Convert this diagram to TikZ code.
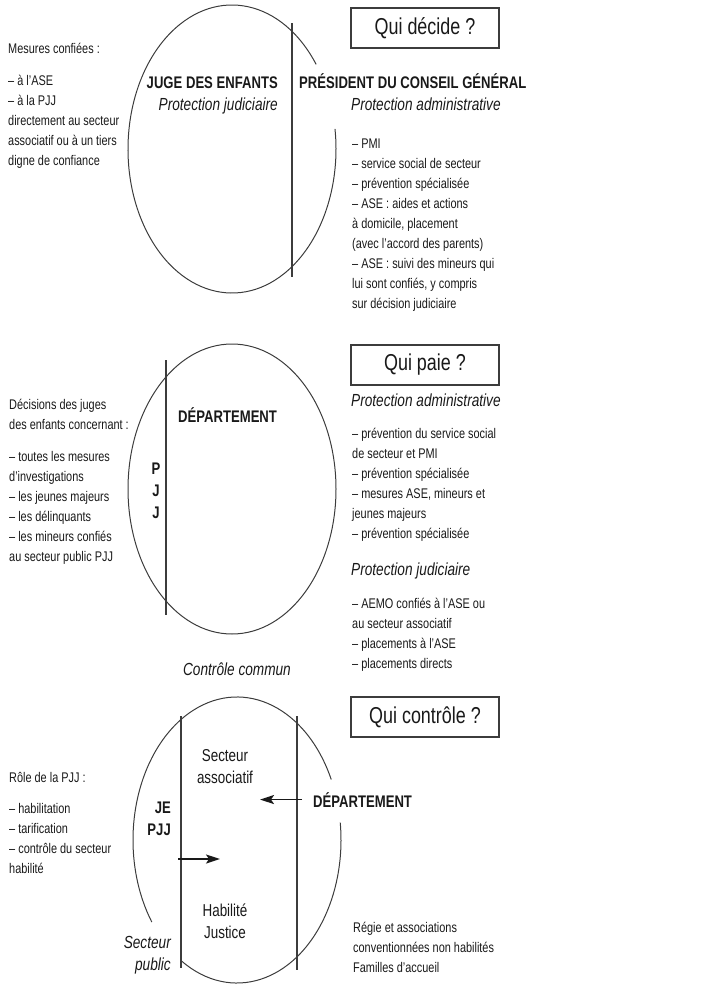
\documentclass[tikz,border=0pt]{standalone}
\usepackage{fontspec}
\setmainfont{Liberation Sans}[FakeStretch=0.78]
\usepackage{tikz}
\usetikzlibrary{arrows.meta,calc}
\definecolor{inkgray}{RGB}{60,60,60}
\definecolor{inktext}{RGB}{25,25,25}

\begin{document}
\begin{tikzpicture}[
    x=1pt, y=-1pt,
    >={Stealth[length=14pt,width=9pt,inset=3pt]},
    every node/.style={inner sep=0pt, text=inktext},
    questionbox/.style={rectangle, draw=inkgray, line width=1.2pt, minimum width=148pt, minimum height=40pt, font=\fontsize{23}{27}\selectfont},
    listtext/.style={anchor=base west, align=left, font=\fontsize{14}{20}\selectfont},
    headbold/.style={font=\bfseries\fontsize{16.8}{22}\selectfont},
    subital/.style={font=\itshape\fontsize{17.5}{22}\selectfont},
    sectortext/.style={align=center, font=\fontsize{17.2}{22}\selectfont},
    ring/.style={draw=inkgray, line width=1pt},
    divider/.style={draw=inkgray, line width=1.1pt},
    ctrlarrow/.style={->, line width=1.8pt, draw=inktext}
]
\useasboundingbox (0,0) rectangle (723,985);

% Part 1: Qui decide ?
\node[questionbox] (decide) at (425,28) {Qui décide ?};
\coordinate (decideC) at (232,149);
\draw[ring] (decideC) ++(-36:104 and 144) arc[start angle=-36, end angle=-368, x radius=104, y radius=144];
\coordinate (decideTop) at (292,23);
\coordinate (decideBot) at (292,277);
\draw[divider] (decideTop) -- (decideBot);

\node[headbold, anchor=base east] (juge) at (278,88) {JUGE DES ENFANTS};
\node[subital, anchor=base east] (judic1) at (278,110) {Protection judiciaire};
\node[headbold, anchor=base west] (pres) at (299,88) {PRÉSIDENT DU CONSEIL GÉNÉRAL};
\node[subital, anchor=base west] (admin1) at (351,110) {Protection administrative};

% multi-line nodes sit on their last baseline
\node[listtext] (mesures) at (8,165) {Mesures confiées :\\[12pt]– à l’ASE\\– à la PJJ\\directement au secteur\\associatif ou à un tiers\\digne de confiance};
\node[listtext] (admlist1) at (352,308) {– PMI\\– service social de secteur\\– prévention spécialisée\\– ASE : aides et actions\\à domicile, placement\\(avec l’accord des parents)\\– ASE : suivi des mineurs qui\\lui sont confiés, y compris\\sur décision judiciaire};

% Part 2: Qui paie ?
\node[questionbox] (paie) at (425,365) {Qui paie ?};
\coordinate (paieC) at (232,489);
\draw[ring] (paieC) ellipse[x radius=104, y radius=145];
\coordinate (paieTop) at (166,360);
\coordinate (paieBot) at (166,615);
\draw[divider] (paieTop) -- (paieBot);

\node[headbold, anchor=base west] (dep2) at (178,422) {DÉPARTEMENT};
\node[headbold, anchor=base, align=center] (pjj2) at (156,518) {P\\J\\J};

\node[listtext] (decisions) at (9,561) {Décisions des juges\\des enfants concernant :\\[12pt]– toutes les mesures\\d’investigations\\– les jeunes majeurs\\– les délinquants\\– les mineurs confiés\\au secteur public PJJ};

\node[subital, anchor=base west] (admin2) at (351,406) {Protection administrative};
\node[listtext] (admlist2) at (352,538) {– prévention du service social\\de secteur et PMI\\– prévention spécialisée\\– mesures ASE, mineurs et\\jeunes majeurs\\– prévention spécialisée};
\node[subital, anchor=base west] (judic2) at (351,575) {Protection judiciaire};
\node[listtext] (judlist2) at (352,668) {– AEMO confiés à l’ASE ou\\au secteur associatif\\– placements à l’ASE\\– placements directs};

% Part 3: Qui controle ?
\node[subital, anchor=base] (commun) at (237,675) {Contrôle commun};
\node[questionbox] (controle) at (425,717) {Qui contrôle ?};
\coordinate (controleC) at (237,840);
\draw[ring] (controleC) ++(-25:104 and 143) arc[start angle=-25, end angle=-215, x radius=104, y radius=143];
\draw[ring] (controleC) ++(-238:104 and 143) arc[start angle=-238, end angle=-367, x radius=104, y radius=143];
\coordinate (pubTop) at (181,716);
\coordinate (pubBot) at (181,968);
\coordinate (depTop) at (297,716);
\coordinate (depBot) at (297,970);
\draw[divider] (pubTop) -- (pubBot);
\draw[divider] (depTop) -- (depBot);

\node[sectortext, anchor=base] (assoc) at (225,783) {Secteur\\associatif};
\node[sectortext, anchor=base] (habil) at (225,938) {Habilité\\Justice};
\node[headbold, anchor=base east, align=right] (jepjj) at (171,835) {JE\\PJJ};
\node[subital, anchor=base east, align=right] (public) at (171,970) {Secteur\\public};
\node[headbold, anchor=base west, inner xsep=11pt] (dep3) at (302,807) {DÉPARTEMENT};

\coordinate (assocTip) at (260,803);
\coordinate (pjjTail) at (178,859);
\coordinate (habilTip) at (220,859);
\draw[ctrlarrow] (dep3.west) -- (dep3.west -| assocTip);
\draw[ctrlarrow] (pjjTail) -- (habilTip);

\node[listtext] (role) at (9,873) {Rôle de la PJJ :\\[11pt]– habilitation\\– tarification\\– contrôle du secteur\\habilité};
\node[listtext] (regie) at (353,972) {Régie et associations\\conventionnées non habilités\\Familles d’accueil};

\end{tikzpicture}
\end{document}
